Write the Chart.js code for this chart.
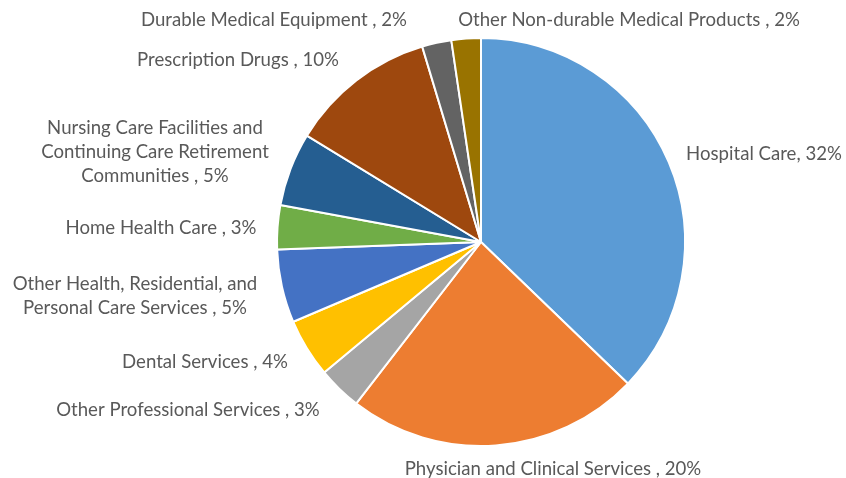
<!DOCTYPE html>
<html>
<head>
<meta charset="utf-8">
<script src="https://cdn.jsdelivr.net/npm/chart.js@4.4.1/dist/chart.umd.min.js"></script>
<style>
  html, body { margin: 0; padding: 0; background: #fff; }
  #wrap { width: 846px; height: 478px; }
</style>
</head>
<body>
<div id="wrap"><canvas id="pie" width="846" height="478"></canvas></div>
<script>
// categories, clockwise from 12 o'clock
const categories = [
  'Hospital Care',
  'Physician and Clinical Services',
  'Other Professional Services',
  'Dental Services',
  'Other Health, Residential, and Personal Care Services',
  'Home Health Care',
  'Nursing Care Facilities and Continuing Care Retirement Communities',
  'Prescription Drugs',
  'Durable Medical Equipment',
  'Other Non-durable Medical Products',
];
const shares = [32, 20, 3, 4, 5, 3, 5, 10, 2, 2];

// label text as shown (line breaks as in the picture)
const labelLines = [
  ['Hospital Care, 32%'],
  ['Physician and Clinical Services , 20%'],
  ['Other Professional Services , 3%'],
  ['Dental Services , 4%'],
  ['Other Health, Residential, and', 'Personal Care Services , 5%'],
  ['Home Health Care , 3%'],
  ['Nursing Care Facilities and', 'Continuing Care Retirement', 'Communities , 5%'],
  ['Prescription Drugs , 10%'],
  ['Durable Medical Equipment , 2%'],
  ['Other Non-durable Medical Products , 2%'],
];

const sliceColors = [
  '#5b9bd5', '#ed7d31', '#a5a5a5', '#ffc000', '#4472c4',
  '#70ad47', '#255e91', '#9e480e', '#636363', '#997300',
];

// where each label block sits (centre x, centre y of the block)
const labelPos = [
  [764, 154], [553, 469], [188, 410], [205, 362], [135, 296],
  [161, 228], [155, 152], [238, 60], [274, 20], [629, 20],
];

const LINE_H = 24;

const outsideLabels = {
  id: 'outsideLabels',
  afterDraw(chart) {
    const ctx = chart.ctx;
    ctx.save();
    ctx.font = '18.6px Lato, "Open Sans", sans-serif';
    ctx.fillStyle = '#595959';
    ctx.textAlign = 'center';
    ctx.textBaseline = 'middle';
    labelLines.forEach((lines, i) => {
      const [cx, cy] = labelPos[i];
      const top = cy - (lines.length - 1) * LINE_H / 2;
      lines.forEach((t, j) => ctx.fillText(t, cx, top + j * LINE_H));
    });
    ctx.restore();
  },
};

new Chart(document.getElementById('pie'), {
  type: 'pie',
  data: {
    labels: categories,
    datasets: [{
      data: shares,
      backgroundColor: sliceColors,
      borderColor: '#ffffff',
      borderWidth: 2,
      offset: 0,
      hoverOffset: 0,
    }],
  },
  options: {
    responsive: false,
    animation: false,
    layout: { padding: { top: 37, bottom: 31, left: 276, right: 160 } },
    plugins: { legend: { display: false }, tooltip: { enabled: false } },
  },
  plugins: [outsideLabels],
});
</script>
</body>
</html>
